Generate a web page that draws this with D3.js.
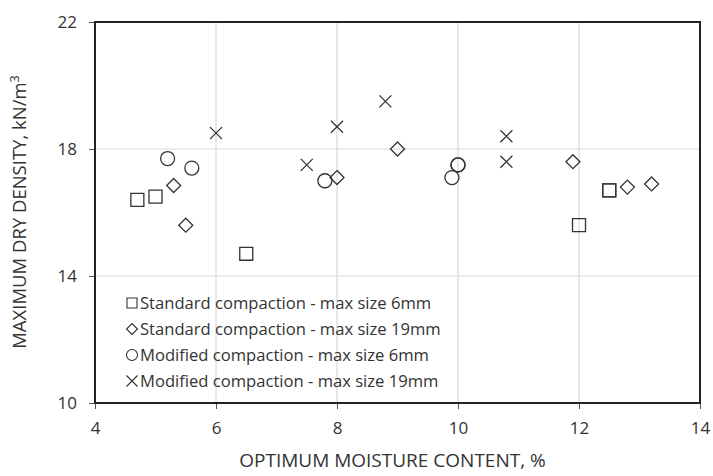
<!DOCTYPE html>
<html>
<head>
<meta charset="utf-8">
<script src="https://cdn.jsdelivr.net/npm/d3@7"></script>
<style>
  body { margin: 0; background: #fff; }
  svg text { font-family: "Open Sans", "Noto Sans", sans-serif; fill: #333; }
</style>
</head>
<body>
<div id="chart"></div>
<script>
// Datos
const stdSmallX = [4.7, 5.0, 6.5, 12.0, 12.5, 12.5];
const stdSmallY = [16.4, 16.5, 14.7, 15.6, 16.7, 16.7];
const stdLargeX = [5.3, 5.5, 8.0, 9.0, 11.9, 12.8, 13.2];
const stdLargeY = [16.85, 15.6, 17.1, 18.0, 17.6, 16.8, 16.9];
const modSmallX = [5.2, 5.6, 7.8, 9.9, 10.0, 10.0];
const modSmallY = [17.7, 17.4, 17.0, 17.1, 17.5, 17.5];
const modLargeX = [6.0, 7.5, 8.0, 8.8, 10.8, 10.8];
const modLargeY = [18.5, 17.5, 18.7, 19.5, 18.4, 17.6];

const seriesNames = [
  "Standard compaction - max size 6mm",
  "Standard compaction - max size 19mm",
  "Modified compaction - max size 6mm",
  "Modified compaction - max size 19mm"
];
const xTicks = [4, 6, 8, 10, 12, 14];
const yTicks = [10, 14, 18, 22];

const width = 713, height = 476;
const margin = { top: 22, right: 13, bottom: 73, left: 95 };
const w = width - margin.left - margin.right;
const h = height - margin.top - margin.bottom;

const svg = d3.select("#chart").append("svg")
  .attr("width", width).attr("height", height);
const g = svg.append("g").attr("transform", `translate(${margin.left},${margin.top})`);

const x = d3.scaleLinear().domain([4, 14]).range([0, w]);
const y = d3.scaleLinear().domain([10, 22]).range([h, 0]);

// Rejilla
g.selectAll(".vgrid").data(xTicks.slice(1, -1)).enter().append("line")
  .attr("x1", d => x(d)).attr("x2", d => x(d)).attr("y1", 0).attr("y2", h)
  .attr("stroke", "#d9d9d9").attr("stroke-width", 1.2);
g.selectAll(".hgrid").data(yTicks.slice(1, -1)).enter().append("line")
  .attr("x1", 0).attr("x2", w).attr("y1", d => y(d)).attr("y2", d => y(d))
  .attr("stroke", "#d9d9d9").attr("stroke-width", 1.2);

// Ejes
const xAxis = g.append("g").attr("transform", `translate(0,${h})`)
  .call(d3.axisBottom(x).tickValues(xTicks).tickSize(6).tickPadding(13));
const yAxis = g.append("g")
  .call(d3.axisLeft(y).tickValues(yTicks).tickSize(6).tickPadding(12));
[xAxis, yAxis].forEach(a => {
  a.select(".domain").remove();
  a.selectAll("line").attr("stroke", "#555");
  a.selectAll("text").style("font-size", "17px").attr("fill", "#333");
});

// Marco
g.append("rect").attr("width", w).attr("height", h)
  .attr("fill", "none").attr("stroke", "#222").attr("stroke-width", 2);

// Títulos de ejes
svg.append("text").attr("x", margin.left + w / 2 - 5).attr("y", 467)
  .attr("text-anchor", "middle").style("font-size", "19px")
  .text("OPTIMUM MOISTURE CONTENT, %");
const yl = svg.append("text").attr("transform", "translate(26,212) rotate(-90)")
  .attr("text-anchor", "middle").style("font-size", "18.5px");
yl.append("tspan").text("MAXIMUM DRY DENSITY, kN/m");
yl.append("tspan").attr("dy", -7).style("font-size", "12.5px").text("3");

// Generadores de marcadores
function marker(type, s) {
  const r = s / 2;
  if (type === 0) return `M${-r},${-r}H${r}V${r}H${-r}Z`;
  if (type === 1) return `M0,${-r}L${r},0L0,${r}L${-r},0Z`;
  if (type === 2) return d3.arc()({ innerRadius: 0, outerRadius: r, startAngle: 0, endAngle: 2 * Math.PI });
  return `M${-r},${-r}L${r},${r}M${r},${-r}L${-r},${r}`;
}

const series = [
  { xs: stdSmallX, ys: stdSmallY, type: 0, size: 13 },
  { xs: stdLargeX, ys: stdLargeY, type: 1, size: 14 },
  { xs: modSmallX, ys: modSmallY, type: 2, size: 14 },
  { xs: modLargeX, ys: modLargeY, type: 3, size: 12 }
];

series.forEach(s => {
  g.selectAll(null).data(s.xs.map((v, i) => [v, s.ys[i]])).enter().append("path")
    .attr("transform", d => `translate(${x(d[0])},${y(d[1])})`)
    .attr("d", marker(s.type, s.size))
    .attr("fill", "none").attr("stroke", "#333").attr("stroke-width", 1.3);
});

// Leyenda
const legend = svg.append("g").attr("transform", "translate(132,303)");
const rows = legend.selectAll("g").data(seriesNames).enter().append("g")
  .attr("transform", (d, i) => `translate(0,${i * 26})`);
rows.append("path")
  .attr("d", (d, i) => marker(i, i === 0 ? 10 : 11))
  .attr("fill", "none").attr("stroke", "#333").attr("stroke-width", 1.1);
rows.append("text").attr("x", 8).attr("y", 6).style("font-size", "16.6px").text(d => d);
</script>
</body>
</html>
